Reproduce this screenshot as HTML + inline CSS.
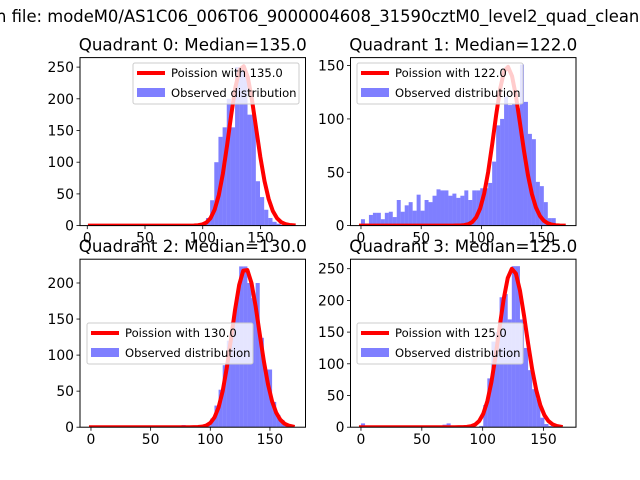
<!DOCTYPE html>
<html><head><meta charset="utf-8"><style>
html,body{margin:0;padding:0;background:#fff;width:640px;height:480px;overflow:hidden}
svg{display:block;font-family:"DejaVu Sans","Liberation Sans",sans-serif}
</style></head><body>
<svg id="fig" width="640" height="480" viewBox="0 0 640 480">
<rect width="640" height="480" fill="#fff"/>
<text x="-4" y="22" font-size="16.4" text-anchor="end">Distribution of counts i</text>
<text x="-4" y="22" font-size="16.4">n file: modeM0/AS1C06_006T06_9000004608_31590cztM0_level2_quad_clean.evt</text>
</svg>
<script>
// ---- data ----
const quadrantTitles = ["Quadrant 0: Median=135.0","Quadrant 1: Median=122.0","Quadrant 2: Median=130.0","Quadrant 3: Median=125.0"];
const lambdas = [135, 122, 130, 125];
const curveAmps = [7344, 4125, 6288, 7006];
const binStarts = [81.2, 0, 0, 0];
const binWidths = [3.6, 3.3, 3.45, 3.35];
const q0Counts = [2,0,0,0,2,5,12,40,100,140,155,200,155,250,250,245,175,175,70,45,25,12,6,3,1];
const q1Counts = [6,2,10,12,12,6,12,13,8,24,13,19,22,14,29,14,24,22,28,34,33,33,28,30,26,28,33,24,33,33,35,35,40,60,94,100,121,113,114,110,151,116,86,81,41,37,22,7,7,0];
const q2Counts = [0,0,0,0,0,0,0,0,0,0,0,0,0,0,0,0,0,0,0,0,0,0,3,0,0,0,0,0,2,12,30,52,86,120,146,180,223,223,200,179,200,124,80,80,35,17,10,5,2,0];
const q3Counts = [6,0,0,0,0,0,0,0,0,0,0,0,0,0,0,0,0,0,0,0,4,6,0,0,0,0,0,0,0,2,35,77,135,150,205,210,170,254,254,170,125,90,60,45,15,5,2,0,0,0];
const xTicks = [0, 50, 100, 150];
const yTicks0 = [0, 50, 100, 150, 200, 250];
const yTicks1 = [0, 50, 100, 150];
const yTicks2 = [0, 50, 100, 150, 200];
const yTicks3 = [0, 50, 100, 150, 200, 250];
const curveRanges = [[2.3,180],[0,169],[0,171],[0,167]];
const legendLabels = ["Poission with 135.0","Poission with 122.0","Poission with 130.0","Poission with 125.0"];

// ---- layout (non-data) ----
const panels = [
 {x0:80, x1:305.5, y0:57.6, y1:225.6, xlim:[-6.3,189], ylim:[0,265], legend:[133,63]},
 {x0:350.5, x1:576, y0:57.6, y1:225.6, xlim:[-8.7,178.5], ylim:[0,157.5], legend:[357,63]},
 {x0:80, x1:305.5, y0:259.2, y1:427.2, xlim:[-9.2,179.8], ylim:[0,233], legend:[87,323]},
 {x0:350.5, x1:576, y0:259.2, y1:427.2, xlim:[-8.6,176.7], ylim:[0,265], legend:[357,323]}
];
const allCounts = [q0Counts,q1Counts,q2Counts,q3Counts];
const allYTicks = [yTicks0,yTicks1,yTicks2,yTicks3];
const NS = "http://www.w3.org/2000/svg";
const svg = document.getElementById('fig');
function mk(tag, attrs, parent){const e=document.createElementNS(NS,tag);for(const k in attrs)e.setAttribute(k,attrs[k]);(parent||svg).appendChild(e);return e;}
function lgamma(z){const c=[76.18009172947146,-86.50532032941677,24.01409824083091,-1.231739572450155,0.1208650973866179e-2,-0.5395239384953e-5];let x=z,y=z,t=x+5.5;t-=(x+0.5)*Math.log(t);let s=1.000000000190015;for(let j=0;j<6;j++)s+=c[j]/++y;return -t+Math.log(2.5066282746310005*s/x);}
function pois(k,l){return Math.exp(k*Math.log(l)-l-lgamma(k+1));}

panels.forEach((p,qi)=>{
  const g = mk('g',{});
  
  
  const sx = v => p.x0 + (v-p.xlim[0])/(p.xlim[1]-p.xlim[0])*(p.x1-p.x0);
  const sy = v => p.y1 - (v-p.ylim[0])/(p.ylim[1]-p.ylim[0])*(p.y1-p.y0);
  const clipId='clip'+qi;
  const cp=mk('clipPath',{id:clipId},g);
  mk('rect',{x:p.x0,y:p.y0,width:p.x1-p.x0,height:p.y1-p.y0},cp);
  const plot=mk('g',{'clip-path':'url(#'+clipId+')'},g);
  const counts=allCounts[qi];
  counts.forEach((c,i)=>{
    if(c<=0) return;
    const a=binStarts[qi]+i*binWidths[qi], b=a+binWidths[qi];
    const r=mk('rect',{x:sx(a),y:sy(c),width:sx(b)-sx(a),height:sy(0)-sy(c),fill:'#0000ff','fill-opacity':0.5},plot);
    
    
  });
  const pts=[];
  const [c0,c1]=curveRanges[qi];
  for(let k=c0;k<=c1+0.001;k+=binWidths[qi]){pts.push(sx(k).toFixed(2)+','+sy(curveAmps[qi]*pois(k,lambdas[qi])).toFixed(2));}
  const pl=mk('polyline',{points:pts.join(' '),fill:'none',stroke:'#ff0000','stroke-width':4,'stroke-linejoin':'round','stroke-linecap':'square'},plot);
  
  
  const fr=mk('rect',{x:p.x0,y:p.y0,width:p.x1-p.x0,height:p.y1-p.y0,fill:'none',stroke:'#000','stroke-width':1},g);
  
  
  xTicks.forEach(t=>{
    const x=sx(t);
    mk('line',{x1:x,x2:x,y1:p.y1,y2:p.y1+3.5,stroke:'#000','stroke-width':0.8},g);
    const tx=mk('text',{x:x,y:p.y1+17,'font-size':13.9,'text-anchor':'middle'},g);
    tx.textContent=t;
    
    
  });
  allYTicks[qi].forEach(t=>{
    const y=sy(t);
    mk('line',{x1:p.x0-3.5,x2:p.x0,y1:y,y2:y,stroke:'#000','stroke-width':0.8},g);
    const tx=mk('text',{x:p.x0-6,y:y+5,'font-size':13.9,'text-anchor':'end'},g);
    tx.textContent=t;
    
    
  });
  const tt=mk('text',{x:(p.x0+p.x1)/2,y:p.y0-7,'font-size':16.7,'text-anchor':'middle'},g);
  tt.textContent=quadrantTitles[qi];
  
  
  const [lx,ly]=p.legend;
  const lg=mk('g',{},g);
  
  
  mk('rect',{x:lx,y:ly,width:166,height:41,rx:2,fill:'#fff','fill-opacity':0.8,stroke:'#cccccc','stroke-width':1},lg);
  mk('line',{x1:lx+4,x2:lx+32,y1:ly+10,y2:ly+10,stroke:'#ff0000','stroke-width':4},lg);
  const t1=mk('text',{x:lx+38,y:ly+14,'font-size':11.6},lg);
  t1.textContent=legendLabels[qi];
  
  
  mk('rect',{x:lx+4,y:ly+25,width:28,height:9,fill:'#0000ff','fill-opacity':0.5},lg);
  const t2=mk('text',{x:lx+38,y:ly+34,'font-size':11.6},lg);
  t2.textContent='Observed distribution';
  
  
});
</script>
</body></html>
